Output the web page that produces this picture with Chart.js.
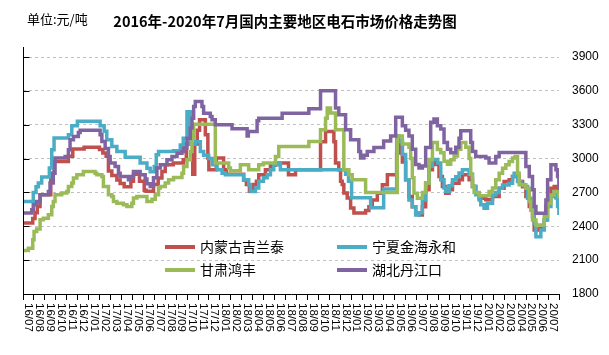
<!DOCTYPE html>
<html><head><meta charset="utf-8">
<script src="https://cdn.jsdelivr.net/npm/chart.js@4.4.1/dist/chart.umd.min.js"></script>
<style>html,body{margin:0;padding:0;background:#fff}#wrap{width:609px;height:355px;position:relative}</style>
</head><body><div id="wrap"><canvas id="c" width="609" height="355"></canvas></div>
<script>
// Month labels (category axis)
const monthLabels = ['16/07','16/08','16/09','16/10','16/11','16/12',
  '17/01','17/02','17/03','17/04','17/05','17/06','17/07','17/08','17/09','17/10','17/11','17/12',
  '18/01','18/02','18/03','18/04','18/05','18/06','18/07','18/08','18/09','18/10','18/11','18/12',
  '19/01','19/02','19/03','19/04','19/05','19/06','19/07','19/08','19/09','19/10','19/11','19/12',
  '20/01','20/02','20/03','20/04','20/05','20/06','20/07'];
const yTicks = [1800,2100,2400,2700,3000,3300,3600,3900];
const seriesNames = ['内蒙古吉兰泰','宁夏金海永和','甘肃鸿丰','湖北丹江口'];
const seriesColors = ['#C0504D','#4BACC6','#9BBB59','#8064A2'];

// [time in months since start of 2016/07, price 元/吨] — value changes at each time
const innerMongolia = [[0,2430],[0.89,2470],[1.10,2520],[1.31,2575],[1.56,2680],[2.54,2870],[2.84,2975],[4.15,3020],[4.55,3085],[5.59,3100],
  [6.99,3080],[7.30,3050],[7.60,3020],[7.81,2890],[8.12,2850],[8.58,2810],[8.88,2780],[9.25,2750],[9.86,2800],[10.10,2860],
  [10.65,2800],[11.08,2720],[11.26,2710],[11.93,2770],[12.36,2827],[12.70,2886],[13.00,2945],[13.74,2960],[14.65,2990],[14.93,3130],
  [15.52,2860],[15.70,3130],[15.93,3250],[16.14,3345],[16.67,3210],[16.90,3005],[16.99,2900],[17.67,3005],[18.34,2900],[18.59,2860],
  [20.17,2810],[20.42,2770],[20.70,2710],[21.06,2770],[21.34,2800],[21.55,2857],[22.16,2901],[22.62,2940],[23.08,2960],[24.27,2857],
  [24.91,2900],[27.20,3150],[27.66,3240],[28.42,3150],[28.57,2960],[28.87,2900],[29.03,2800],[29.18,2770],[29.33,2694],[29.64,2650],
  [29.95,2562],[30.25,2518],[31.32,2540],[31.62,2573],[31.93,2633],[32.39,2693],[32.85,2768],[33.31,2857],[34.16,3050],[34.37,3156],
  [34.68,2970],[34.98,2812],[35.28,2663],[35.59,2573],[35.90,2514],[36.20,2500],[36.51,2573],[36.81,2723],[37.12,2902],[37.43,2962],
  [37.73,2947],[38.03,2842],[38.34,2753],[38.64,2693],[38.95,2723],[39.26,2782],[39.86,2812],[40.17,2857],[40.78,2812],[41.09,2752],
  [41.39,2693],[41.70,2649],[42.31,2635],[42.92,2664],[43.53,2738],[43.98,2797],[44.44,2812],[44.75,2841],[45.36,2797],[45.67,2750],
  [45.97,2664],[46.28,2575],[46.58,2486],[46.73,2367],[47.19,2380],[47.65,2456],[47.80,2580],[48.11,2664],[48.26,2738],[48.56,2752],
  [48.87,2664],[48.99,2604]];
const ningxia = [[0,2620],[0.94,2700],[1.19,2750],[1.40,2783],[1.71,2836],[2.41,2916],[2.63,3078],[2.84,3182],[4.15,3211],[4.46,3291],[4.97,3330],
  [7.05,3291],[7.42,3241],[7.66,3167],[8.12,3108],[8.58,3063],[9.34,3012],[10.71,2960],[11.33,2915],[11.63,2884],[12.00,2930],[12.18,3034],
  [12.39,3063],[13.76,3070],[14.38,3120],[14.65,3181],[14.99,3415],[15.29,3130],[15.75,3150],[16.21,3063],[16.51,3030],[16.97,3000],
  [17.31,2945],[17.74,2900],[18.20,2871],[18.50,2857],[20.17,2812],[20.63,2768],[20.79,2709],[21.25,2740],[21.55,2798],[21.98,2830],
  [22.32,2857],[22.62,2900],[22.92,2945],[23.23,2960],[23.53,2901],[29.49,2860],[29.76,2800],[30.04,2653],[31.78,2564],[32.97,2730],
  [34.16,3201],[34.37,3150],[34.68,3037],[34.98,2812],[35.28,2633],[35.59,2573],[35.90,2499],[36.20,2520],[36.51,2633],[36.81,2783],
  [37.12,2932],[37.43,2992],[37.91,2960],[38.19,2812],[38.49,2740],[38.64,2708],[38.95,2760],[39.26,2812],[39.56,2840],[39.86,2872],
  [40.17,2902],[40.78,2860],[41.09,2753],[41.39,2680],[41.70,2634],[41.85,2590],[42.15,2560],[42.46,2604],[42.92,2678],[43.22,2700],
  [43.53,2738],[43.84,2765],[44.44,2782],[44.75,2841],[44.90,2870],[45.21,2797],[45.51,2770],[45.82,2752],[46.13,2649],[46.43,2545],
  [46.73,2427],[46.89,2308],[47.34,2367],[47.65,2456],[47.96,2575],[48.26,2664],[48.56,2708],[48.72,2650],[48.87,2575],[48.99,2501]];
const gansu = [[0,2186],[0.49,2206],[0.89,2280],[1.01,2354],[1.25,2375],[1.56,2458],[1.86,2472],[2.32,2502],[2.63,2576],[2.77,2620],
  [2.93,2680],[3.54,2694],[4.00,2709],[4.15,2753],[4.46,2783],[4.61,2827],[4.92,2857],[5.52,2886],[6.59,2871],[6.75,2857],
  [7.21,2842],[7.35,2753],[7.81,2680],[8.12,2665],[8.27,2620],[8.58,2605],[9.18,2590],[9.50,2576],[9.95,2605],[10.10,2650],
  [10.41,2665],[11.33,2620],[11.79,2640],[12.09,2680],[12.39,2740],[12.55,2753],[13.00,2783],[13.31,2812],[13.76,2833],[14.53,2871],
  [14.68,2930],[14.99,2989],[15.29,3063],[15.45,3181],[15.60,3305],[17.58,2960],[18.80,2916],[18.96,2892],[19.87,2945],[20.63,2901],
  [21.55,2945],[21.98,2960],[23.08,3019],[23.38,3107],[26.13,3152],[27.20,3255],[27.66,3358],[27.81,3447],[28.11,3403],[28.57,3255],
  [29.33,2901],[29.79,2857],[30.10,2812],[31.32,2700],[34.22,3200],[34.68,3130],[35.28,3100],[35.44,3000],[35.59,2830],[35.74,2693],
  [36.05,2648],[36.51,2700],[36.81,2783],[37.12,2992],[37.43,3142],[37.88,3080],[38.19,3052],[38.49,2977],[38.80,2950],[39.10,2990],
  [39.41,3022],[39.72,3082],[40.02,3142],[40.48,3100],[40.78,3000],[40.93,2860],[41.09,2760],[41.24,2700],[41.70,2670],[42.61,2708],
  [42.92,2740],[43.22,2812],[43.53,2871],[43.84,2915],[44.14,2945],[44.44,2974],[44.75,3004],[44.99,3019],[45.21,2871],[45.36,2767],
  [45.97,2738],[46.28,2619],[46.43,2545],[46.58,2456],[46.89,2412],[47.65,2486],[47.96,2604],[48.26,2678],[48.56,2708],[48.99,2649]];
const hubei = [[0,2517],[0.80,2546],[0.94,2591],[1.25,2620],[1.56,2680],[2.32,2709],[2.47,2783],[2.77,2871],[2.93,3004],[3.85,3019],
  [4.15,3078],[4.30,3167],[4.61,3196],[5.06,3232],[5.22,3250],[7.05,3210],[7.21,3152],[7.51,3090],[7.81,3019],[7.97,2960],
  [8.42,2930],[8.73,2871],[8.88,2842],[9.64,2812],[9.80,2842],[10.10,2886],[10.71,2857],[11.17,2820],[11.33,2777],[11.63,2753],
  [11.93,2830],[12.24,2916],[12.55,2945],[13.16,2989],[13.62,3019],[14.08,3048],[14.53,3063],[14.68,3093],[14.99,3181],[15.29,3270],
  [15.45,3358],[15.60,3461],[15.75,3506],[16.36,3461],[16.51,3402],[17.12,3373],[17.28,3345],[17.58,3300],[19.11,3265],[20.49,3200],
  [20.60,3240],[21.40,3335],[21.55,3358],[23.69,3402],[26.13,3441],[27.20,3600],[28.57,3447],[28.87,3388],[29.49,3255],[29.95,3166],
  [30.70,3063],[30.86,3004],[31.16,3030],[31.47,3063],[32.08,3097],[32.97,3156],[33.61,3201],[34.07,3366],[34.68,3291],[34.98,3250],
  [35.28,3201],[35.59,3082],[35.90,2947],[36.20,2917],[36.51,2935],[36.81,3097],[37.27,3321],[37.57,3351],[37.88,3290],[38.19,3261],
  [38.49,3142],[38.80,3082],[39.10,3052],[39.56,3100],[39.86,3180],[40.02,3246],[40.93,3142],[41.09,3063],[41.39,3019],[42.31,3004],
  [42.61,2960],[43.22,3019],[43.53,3054],[45.82,3054],[45.97,2930],[46.28,2841],[46.58,2723],[46.73,2575],[46.89,2516],[47.80,2634],
  [47.96,2812],[48.26,2945],[48.72,2900],[48.87,2841],[48.99,2723]];

const allSeries = [innerMongolia, ningxia, gansu, hubei];

const decor = {
  id: 'decor',
  afterDraw(chart) {
    const {ctx, chartArea: a, scales} = chart;
    const y = scales.y, xc = scales.xc;
    ctx.save();
    // left axis line with inward ticks
    ctx.strokeStyle = '#000'; ctx.lineWidth = 1;
    ctx.beginPath();
    const lx = Math.round(a.left) + 0.5;
    ctx.moveTo(lx, a.top - 10); ctx.lineTo(lx, a.bottom);
    yTicks.forEach(v => {
      const py = Math.round(y.getPixelForValue(v)) + 0.5;
      ctx.moveTo(lx, py); ctx.lineTo(lx + 6, py);
    });
    ctx.stroke();
    // rotated month labels (reading top to bottom)
    ctx.fillStyle = '#000';
    ctx.font = '11.5px "Liberation Sans", Arial, sans-serif';
    ctx.textAlign = 'left'; ctx.textBaseline = 'middle';
    monthLabels.forEach((lab, i) => {
      const px = xc.getPixelForValue(i);
      ctx.save(); ctx.translate(px, a.bottom + 9); ctx.rotate(Math.PI / 2);
      ctx.fillText(lab, 0, 0); ctx.restore();
    });
    // legend inside plot
    const items = [
      {i:0, lx: a.left + 142, ty: 247}, {i:1, lx: a.left + 314, ty: 247},
      {i:2, lx: a.left + 142, ty: 270}, {i:3, lx: a.left + 314, ty: 270}];
    ctx.font = '14px "Noto Sans CJK SC", sans-serif';
    ctx.textBaseline = 'middle'; ctx.textAlign = 'left';
    items.forEach(it => {
      ctx.strokeStyle = seriesColors[it.i]; ctx.lineWidth = 4; ctx.lineCap = 'butt';
      ctx.beginPath(); ctx.moveTo(it.lx, it.ty); ctx.lineTo(it.lx + 30, it.ty); ctx.stroke();
      ctx.fillStyle = '#000';
      ctx.fillText(seriesNames[it.i], it.lx + 35, it.ty);
    });
    // title & unit
    ctx.fillStyle = '#000';
    ctx.font = 'bold 14.5px "Noto Sans CJK SC", sans-serif';
    ctx.textAlign = 'center'; ctx.textBaseline = 'middle';
    ctx.fillText('2016年-2020年7月国内主要地区电石市场价格走势图', 285, 21);
    ctx.font = '13px "Noto Sans CJK SC", sans-serif';
    ctx.textAlign = 'left';
    ctx.fillText('单位:元/吨', 27, 19);
    ctx.restore();
  }
};

new Chart(document.getElementById('c'), {
  type: 'line',
  data: {
    datasets: allSeries.map((s, k) => ({
      label: seriesNames[k],
      data: s.map(p => ({x: p[0], y: p[1]})),
      borderColor: seriesColors[k],
      backgroundColor: seriesColors[k],
      borderWidth: 3.5,
      pointRadius: 0,
      stepped: 'before',
      fill: false,
      order: 4 - k,
      xAxisID: 'x', yAxisID: 'y'
    }))
  },
  options: {
    responsive: false,
    animation: false,
    devicePixelRatio: 1,
    layout: {padding: {left: 23, top: 57, right: 0, bottom: 0}},
    plugins: {legend: {display: false}, title: {display: false}, tooltip: {enabled: false}},
    scales: {
      x: {type: 'linear', display: false, min: 0, max: 49},
      xc: {
        type: 'category', labels: monthLabels, position: 'bottom', offset: true,
        grid: {offset: true, drawOnChartArea: false, drawTicks: true, tickLength: 6, color: '#000'},
        border: {display: true, color: '#000', width: 1},
        ticks: {display: false},
        afterFit(s) { s.height = 61; }
      },
      y: {
        type: 'linear', position: 'right', min: 1800, max: 3900,
        ticks: {stepSize: 300, padding: 13, color: '#000',
          font: {family: '"Liberation Sans", Arial, sans-serif', size: 12},
          callback: v => String(v)},
        grid: {color: '#c0c0c0', drawTicks: false, lineWidth: 1},
        border: {display: false, dash: [3, 3]},
        afterFit(s) { s.width = 50; }
      }
    }
  },
  plugins: [decor]
});
</script>
</body></html>
